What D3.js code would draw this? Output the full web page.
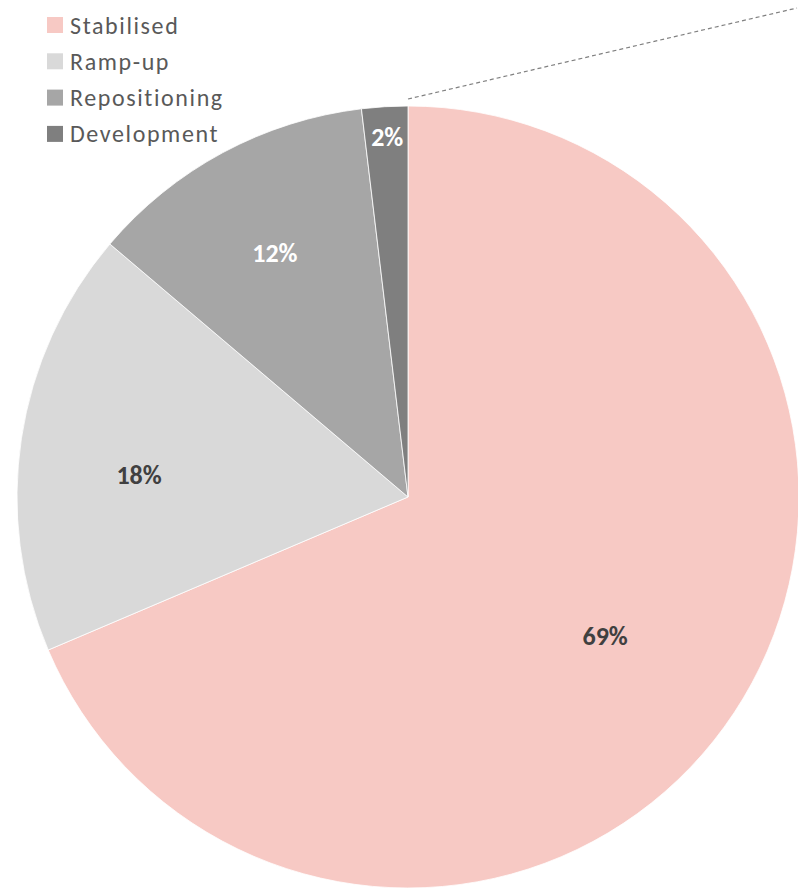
<!DOCTYPE html>
<html>
<head>
<meta charset="utf-8">
<script src="https://cdn.jsdelivr.net/npm/d3@7"></script>
<style>
  body { margin: 0; background: #fff; }
  text { font-family: Carlito, Calibri, Lato, "Open Sans", sans-serif; }
</style>
</head>
<body>
<div id="chart"></div>
<script>
var canvas_width = 798,
    canvas_height = 891;

// data
var categories = ["Stabilised", "Ramp-up", "Repositioning", "Development"];
var shares = [68.6, 17.6, 11.9, 1.9];
var colours = ["#F7C9C4", "#D9D9D9", "#A6A6A6", "#7F7F7F"];
var labelColours = ["#404040", "#404040", "#ffffff", "#ffffff"];

// where the labels sit, as fraction of radius, and angle nudge (rad)
var labelRadius = [0.617, 0.69, 0.711, 0.923];
var labelNudge = [0.03, -0.07, -0.006, 0.002];

var svg = d3.select("#chart")
    .append("svg")
    .attr("width", canvas_width)
    .attr("height", canvas_height);

var cx = 408, cy = 497, radius = 391;

var source = categories.map(function (c, i) {
    return { key: c, value: shares[i], colour: colours[i], i: i };
});

var pie = d3.pie()
    .sort(null)
    .value(d => d.value);

var arc = d3.arc()
    .innerRadius(0)
    .outerRadius(radius);

var total = d3.sum(shares);
var fmt = d3.format(".0%");

var g = svg.append("g")
    .attr("transform", "translate(" + cx + "," + cy + ")");

var arcs = pie(source);

g.selectAll(".slice")
    .data(arcs)
    .enter()
    .append("path")
    .attr("class", "slice")
    .attr("d", arc)
    .attr("fill", d => d.data.colour)
    .attr("stroke", "#ffffff")
    .attr("stroke-width", 0.8);

// labels
g.selectAll(".pct")
    .data(arcs)
    .enter()
    .append("text")
    .attr("class", "pct")
    .attr("transform", function (d) {
        var a = (d.startAngle + d.endAngle) / 2 + labelNudge[d.data.i];
        var r = radius * labelRadius[d.data.i];
        return "translate(" + (Math.sin(a) * r) + "," + (-Math.cos(a) * r) + ")";
    })
    .attr("text-anchor", "middle")
    .attr("dominant-baseline", "central")
    .style("font-size", "26px")
    .style("font-weight", "bold")
    .style("fill", d => labelColours[d.data.i])
    .text(d => fmt(d.data.value / total));

// dashed connector off the top of the pie
var last = arcs[arcs.length - 1];
svg.append("line")
    .attr("x1", cx + Math.sin(last.endAngle) * (radius + 7))
    .attr("y1", cy - Math.cos(last.endAngle) * (radius + 7))
    .attr("x2", 797)
    .attr("y2", 8)
    .attr("stroke", "#808080")
    .attr("stroke-width", 1.2)
    .attr("stroke-dasharray", "4,3");

// legend
var legend = svg.selectAll(".legend")
    .data(categories)
    .enter()
    .append("g")
    .attr("class", "legend")
    .attr("transform", (d, i) => "translate(47," + (25 + i * 36.3) + ")");

legend.append("rect")
    .attr("x", 0)
    .attr("y", -8)
    .attr("width", 16)
    .attr("height", 16)
    .attr("fill", (d, i) => colours[i]);

legend.append("text")
    .attr("x", 23)
    .attr("y", 0)
    .attr("dominant-baseline", "central")
    .style("font-size", "24px")
    .style("letter-spacing", "1.6px")
    .style("fill", "#595959")
    .text(d => d);
</script>
</body>
</html>
